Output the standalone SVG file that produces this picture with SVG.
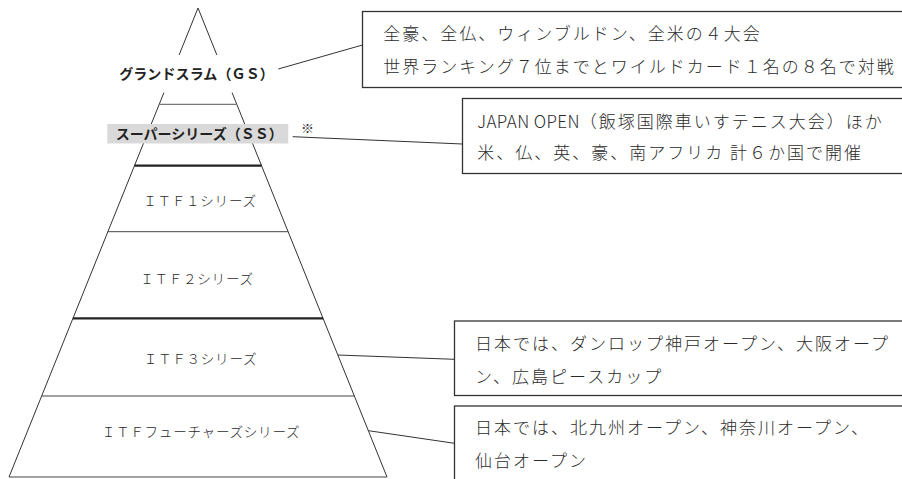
<svg xmlns="http://www.w3.org/2000/svg" width="902" height="479" viewBox="0 0 902 479">
<style>
.side{stroke:#333;stroke-width:1;fill:none}
.thin{stroke:#444;stroke-width:1;fill:none}
.thick{stroke:#222;stroke-width:2.2;fill:none}
.gray{stroke:#777;stroke-width:1.3;fill:none}
.conn{stroke:#333;stroke-width:1;fill:none}
.box{fill:#fff;stroke:#333;stroke-width:1.3}
.bt{font-family:"Noto Sans CJK JP","Noto Sans",sans-serif;font-size:17px;font-weight:300;letter-spacing:2px;fill:#2b2b2b}
.lat{letter-spacing:0.4px}
.pl{font-family:"Noto Sans CJK JP","Noto Sans",sans-serif;font-size:13.6px;font-weight:300;letter-spacing:0.7px;fill:#2b2b2b;text-anchor:middle}
.hl{font-family:"Noto Sans CJK JP","Noto Sans",sans-serif;font-size:14px;font-weight:bold;fill:#222;text-anchor:middle}
</style>
<rect width="902" height="479" fill="#fff"/>
<g id="pyramid">
<line class="side" x1="198" y1="8" x2="179.1" y2="55"/>
<line class="side" x1="198" y1="8" x2="216.9" y2="55"/>
<line class="side" x1="163.9" y1="92.7" x2="9" y2="477"/>
<line class="side" x1="232.1" y1="92.7" x2="387" y2="477"/>
<line class="gray" x1="159.2" y1="104.3" x2="236.8" y2="104.3"/>
<line class="thick" x1="134.4" y1="165.7" x2="261.6" y2="165.7"/>
<line class="thin" x1="107.8" y1="231.7" x2="288.2" y2="231.7"/>
<line class="thick" x1="72.9" y1="318.3" x2="323.1" y2="318.3"/>
<line class="thin" x1="41.6" y1="396" x2="354.4" y2="396"/>
<line class="thin" x1="9" y1="477" x2="387" y2="477"/>
</g>
<g id="connectors">
<line class="conn" x1="278.3" y1="69" x2="362.5" y2="45"/>
<line class="conn" x1="292.7" y1="136.7" x2="462.5" y2="144"/>
<line class="conn" x1="337.8" y1="355" x2="454.5" y2="359.3"/>
<line class="conn" x1="368.5" y1="430.7" x2="454.5" y2="443.3"/>
</g>
<g id="gs">
<text class="hl" x="196.5" y="78.6" letter-spacing="0.1">グランドスラム（ＧＳ）</text>
</g>
<g id="ss">
<rect x="107.3" y="124" width="181" height="19.5" fill="#d9d9d9"/>
<text class="hl" x="199.2" y="139.3">スーパーシリーズ（ＳＳ）</text>
<text x="301" y="132.5" font-family="&quot;Noto Sans CJK JP&quot;,sans-serif" font-size="13" font-weight="300" fill="#333">※</text>
</g>
<g id="itf1"><text class="pl" x="200" y="205.5">ＩＴＦ１シリーズ</text></g>
<g id="itf2"><text class="pl" x="197" y="284">ＩＴＦ２シリーズ</text></g>
<g id="itf3"><text class="pl" x="200.5" y="364">ＩＴＦ３シリーズ</text></g>
<g id="itff"><text class="pl" x="201" y="436.5">ＩＴＦフューチャーズシリーズ</text></g>
<g id="box-gs">
<rect class="box" x="362.5" y="11.5" width="545" height="76"/>
<text class="bt" x="383.3" y="40">全豪、全仏、ウィンブルドン、全米の４大会</text>
<text class="bt" x="383.3" y="73">世界ランキング７位までとワイルドカード１名の８名で対戦</text>
</g>
<g id="box-ss">
<rect class="box" x="462.5" y="98.5" width="445" height="75"/>
<text class="bt" x="477.3" y="127.5"><tspan class="lat">JAPAN OPEN</tspan>（飯塚国際車いすテニス大会）ほか</text>
<text class="bt" x="477.3" y="159">米、仏、英、豪、南アフリカ 計６か国で開催</text>
</g>
<g id="box-itf3">
<rect class="box" x="454.5" y="321" width="453" height="74.5"/>
<text class="bt" x="475" y="350">日本では、ダンロップ神戸オープン、大阪オープ</text>
<text class="bt" x="475" y="382.5">ン、広島ピースカップ</text>
</g>
<g id="box-itff">
<rect class="box" x="454.5" y="406" width="453" height="85"/>
<text class="bt" x="475" y="433.5">日本では、北九州オープン、神奈川オープン、</text>
<text class="bt" x="475" y="467">仙台オープン</text>
</g>
</svg>
